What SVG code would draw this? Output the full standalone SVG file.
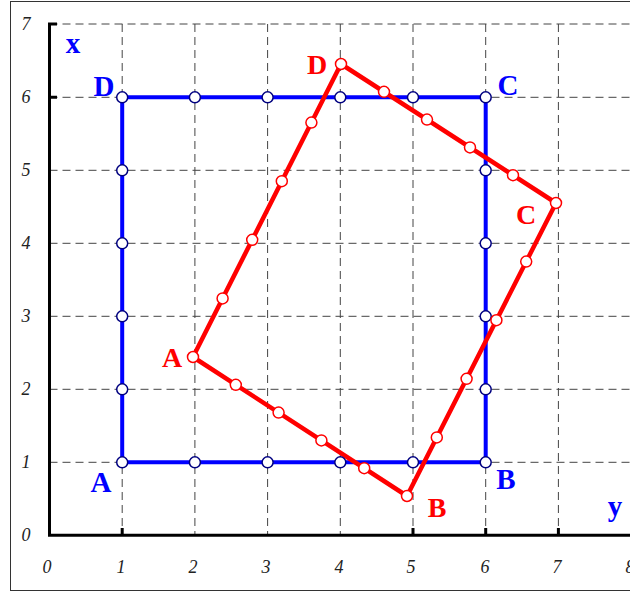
<svg xmlns="http://www.w3.org/2000/svg" width="630" height="592" viewBox="0 0 630 592">
<style>
.grid{stroke:#444;stroke-width:1;stroke-dasharray:8 5;fill:none}
.axis{stroke:#000;stroke-width:3;fill:none}
.tick{font-family:"Liberation Serif",serif;font-style:italic;font-size:18px;fill:#222}
.blbl{font-family:"Liberation Serif",serif;font-weight:bold;font-size:29px;fill:#0000ff}
.rlbl{font-family:"Liberation Serif",serif;font-weight:bold;font-size:28px;fill:#ff0000}
.bline{stroke:#0000ff;stroke-width:4;fill:none}
.rline{stroke:#ff0000;stroke-width:4.5;fill:none;stroke-linejoin:round}
.bpt{fill:#fff;stroke:#000080;stroke-width:1.5}
.rpt{fill:#fff;stroke:#ff0000;stroke-width:1.5}
</style>
<rect x="10.5" y="1.5" width="640" height="589" fill="#fff" stroke="#333" stroke-width="1"/>
<g id="grid">
<path class="grid" d="M122.2 24V535M194.9 24V535M267.6 24V535M340.3 24V535M413 24V535M485.7 24V535M558.4 24V535"/>
<path class="grid" d="M49.5 24H630M49.5 97.3H630M49.5 170.3H630M49.5 243.3H630M49.5 316.3H630M49.5 389.3H630M49.5 462.3H630"/>
</g>
<g id="axes">
<path class="axis" d="M57 24H49.5V535.3H630"/>
<path class="axis" d="M49.5 97.3H57M122.2 535.3V528M413 535.3V528M485.7 535.3V528M558.4 535.3V528"/>
<text class="tick" x="26" y="30" text-anchor="middle">7</text>
<text class="tick" x="26" y="103" text-anchor="middle">6</text>
<text class="tick" x="26" y="176" text-anchor="middle">5</text>
<text class="tick" x="26" y="249" text-anchor="middle">4</text>
<text class="tick" x="26" y="322" text-anchor="middle">3</text>
<text class="tick" x="26" y="395" text-anchor="middle">2</text>
<text class="tick" x="26" y="468" text-anchor="middle">1</text>
<text class="tick" x="26" y="541" text-anchor="middle">0</text>
<text class="tick" x="47" y="573" text-anchor="middle">0</text>
<text class="tick" x="121" y="573" text-anchor="middle">1</text>
<text class="tick" x="193" y="573" text-anchor="middle">2</text>
<text class="tick" x="266" y="573" text-anchor="middle">3</text>
<text class="tick" x="339" y="573" text-anchor="middle">4</text>
<text class="tick" x="411" y="573" text-anchor="middle">5</text>
<text class="tick" x="485" y="573" text-anchor="middle">6</text>
<text class="tick" x="557" y="573" text-anchor="middle">7</text>
<text class="tick" x="630" y="573" text-anchor="middle">8</text>
<text class="blbl" x="73" y="53" text-anchor="middle">x</text>
<text class="blbl" x="615" y="516" text-anchor="middle">y</text>
</g>
<g id="connectors">
<path class="bline" d="M122.2 462.3H485.7V97.3H122.2Z"/>
<path class="rline" d="M193 357L407 496L556 203L341 64Z"/>
</g>
<g id="blue-square">
<circle class="bpt" cx="122.2" cy="462.3" r="5.5"/><circle class="bpt" cx="194.9" cy="462.3" r="5.5"/><circle class="bpt" cx="267.6" cy="462.3" r="5.5"/><circle class="bpt" cx="340.3" cy="462.3" r="5.5"/><circle class="bpt" cx="413" cy="462.3" r="5.5"/><circle class="bpt" cx="485.7" cy="462.3" r="5.5"/>
<circle class="bpt" cx="485.7" cy="389.3" r="5.5"/><circle class="bpt" cx="485.7" cy="316.3" r="5.5"/><circle class="bpt" cx="485.7" cy="243.3" r="5.5"/><circle class="bpt" cx="485.7" cy="170.3" r="5.5"/><circle class="bpt" cx="485.7" cy="97.3" r="5.5"/>
<circle class="bpt" cx="413" cy="97.3" r="5.5"/><circle class="bpt" cx="340.3" cy="97.3" r="5.5"/><circle class="bpt" cx="267.6" cy="97.3" r="5.5"/><circle class="bpt" cx="194.9" cy="97.3" r="5.5"/><circle class="bpt" cx="122.2" cy="97.3" r="5.5"/>
<circle class="bpt" cx="122.2" cy="170.3" r="5.5"/><circle class="bpt" cx="122.2" cy="243.3" r="5.5"/><circle class="bpt" cx="122.2" cy="316.3" r="5.5"/><circle class="bpt" cx="122.2" cy="389.3" r="5.5"/>
<text class="blbl" x="101" y="492" text-anchor="middle">A</text>
<text class="blbl" x="506" y="489" text-anchor="middle">B</text>
<text class="blbl" x="508" y="95" text-anchor="middle">C</text>
<text class="blbl" x="104" y="96" text-anchor="middle">D</text>
</g>
<g id="red-square">
<circle class="rpt" cx="193" cy="357" r="5.5"/><circle class="rpt" cx="235.8" cy="384.8" r="5.5"/><circle class="rpt" cx="278.6" cy="412.6" r="5.5"/><circle class="rpt" cx="321.4" cy="440.4" r="5.5"/><circle class="rpt" cx="364.2" cy="468.2" r="5.5"/>
<circle class="rpt" cx="407" cy="496" r="5.5"/><circle class="rpt" cx="436.8" cy="437.4" r="5.5"/><circle class="rpt" cx="466.6" cy="378.8" r="5.5"/><circle class="rpt" cx="496.4" cy="320.2" r="5.5"/><circle class="rpt" cx="526.2" cy="261.6" r="5.5"/>
<circle class="rpt" cx="556" cy="203" r="5.5"/><circle class="rpt" cx="513" cy="175.2" r="5.5"/><circle class="rpt" cx="470" cy="147.4" r="5.5"/><circle class="rpt" cx="427" cy="119.6" r="5.5"/><circle class="rpt" cx="384" cy="91.8" r="5.5"/>
<circle class="rpt" cx="341" cy="64" r="5.5"/><circle class="rpt" cx="311.4" cy="122.6" r="5.5"/><circle class="rpt" cx="281.8" cy="181.2" r="5.5"/><circle class="rpt" cx="252.2" cy="239.8" r="5.5"/><circle class="rpt" cx="222.6" cy="298.4" r="5.5"/>
<text class="rlbl" x="172" y="367" text-anchor="middle">A</text>
<text class="rlbl" x="437" y="517" text-anchor="middle">B</text>
<text class="rlbl" x="526" y="224" text-anchor="middle">C</text>
<text class="rlbl" x="317" y="74" text-anchor="middle">D</text>
</g>
</svg>
